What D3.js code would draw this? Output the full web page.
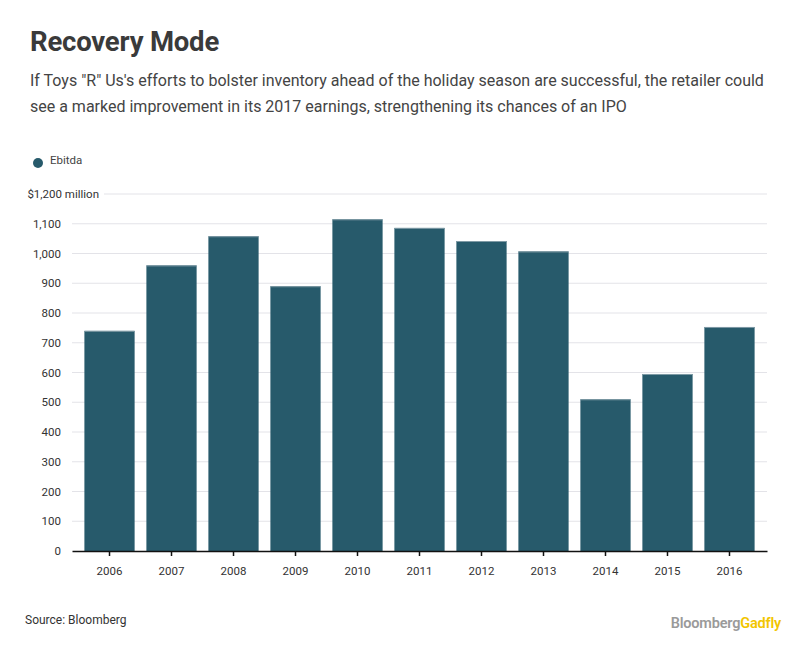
<!DOCTYPE html>
<html>
<head>
<meta charset="utf-8">
<script src="https://cdn.jsdelivr.net/npm/d3@7"></script>
<style>
  body { margin: 0; background: #fff; }
  text { font-family: Roboto, "Noto Sans", sans-serif; }
</style>
</head>
<body>
<script>
// Ebitda by year, $ million
const years = ['2006', '2007', '2008', '2009', '2010', '2011', '2012', '2013', '2014', '2015', '2016']
const ebitda = [740, 960, 1058, 890, 1115, 1086, 1042, 1007, 510, 595, 753]
const yTicks = [0, 100, 200, 300, 400, 500, 600, 700, 800, 900, 1000, 1100, 1200]

const W = 812, H = 660
const svg = d3.select('body').append('svg').attr('width', W).attr('height', H)

const x = d3.scaleBand().domain(years).range([72, 767]).paddingInner(0.19).paddingOuter(0.2)
const y = d3.scaleLinear().domain([0, 1200]).range([551, 194])

svg.append('text').attr('x', 30).attr('y', 51)
  .attr('font-size', 27.5).attr('font-weight', 700).attr('fill', '#3a3a3a')
  .attr('letter-spacing', '-0.2px')
  .text('Recovery Mode')

const sub = ['If Toys "R" Us\'s efforts to bolster inventory ahead of the holiday season are successful, the retailer could',
  'see a marked improvement in its 2017 earnings, strengthening its chances of an IPO']
sub.forEach((s, i) => {
  svg.append('text').attr('x', 30).attr('y', 86 + i * 26)
    .attr('font-size', 16).attr('fill', '#444')
    .text(s)
})

// legend
svg.append('circle').attr('cx', 38).attr('cy', 163).attr('r', 5).attr('fill', '#275a6b')
svg.append('text').attr('x', 50).attr('y', 164).attr('font-size', 11.5).attr('fill', '#444').text('Ebitda')

// grid
svg.append('g').selectAll('line').data(yTicks.filter(d => d > 0)).join('line')
  .attr('x1', d => d === 1200 ? 104 : 72).attr('x2', 767)
  .attr('y1', d => y(d)).attr('y2', d => y(d))
  .attr('stroke', '#e3e3e8').attr('stroke-width', 1)

svg.append('g').selectAll('text').data(yTicks).join('text')
  .attr('x', d => d === 1200 ? 99 : 61).attr('y', d => y(d) + 4)
  .attr('text-anchor', 'end').attr('font-size', 11.5).attr('fill', '#333')
  .text(d => d === 1200 ? '$1,200 million' : d3.format(',')(d))

// bars
svg.append('g').selectAll('rect').data(years).join('rect')
  .attr('x', d => x(d)).attr('width', x.bandwidth())
  .attr('y', (d, i) => y(ebitda[i])).attr('height', (d, i) => y(0) - y(ebitda[i]))
  .attr('fill', '#275a6b')

svg.append('g').selectAll('line').data(years).join('line')
  .attr('x1', d => x(d)).attr('x2', d => x(d) + x.bandwidth())
  .attr('y1', (d, i) => y(ebitda[i]) + 0.5).attr('y2', (d, i) => y(ebitda[i]) + 0.5)
  .attr('stroke', '#7f9aa5').attr('stroke-width', 1)

// x axis
const xAxis = svg.append('g').attr('transform', 'translate(0,551)')
  .call(d3.axisBottom(x).tickSize(5).tickSizeOuter(0))
xAxis.select('.domain').attr('stroke', '#111').attr('stroke-width', 1.5)
xAxis.selectAll('.tick line').attr('stroke', '#111').attr('stroke-width', 1.5)
xAxis.selectAll('.tick text').attr('y', 16).attr('font-size', 11.5).attr('fill', '#333')
  .attr('font-family', 'Roboto, sans-serif')

svg.append('text').attr('x', 25).attr('y', 624).attr('font-size', 12).attr('fill', '#333')
  .text('Source: Bloomberg')

const logo = svg.append('text').attr('x', 781).attr('y', 628).attr('text-anchor', 'end')
  .attr('font-size', 14.5).attr('font-weight', 600).attr('letter-spacing', '-0.2px')
logo.append('tspan').attr('fill', '#9a9a9a').text('Bloomberg')
logo.append('tspan').attr('fill', '#f2c500').text('Gadfly')
</script>
</body>
</html>
